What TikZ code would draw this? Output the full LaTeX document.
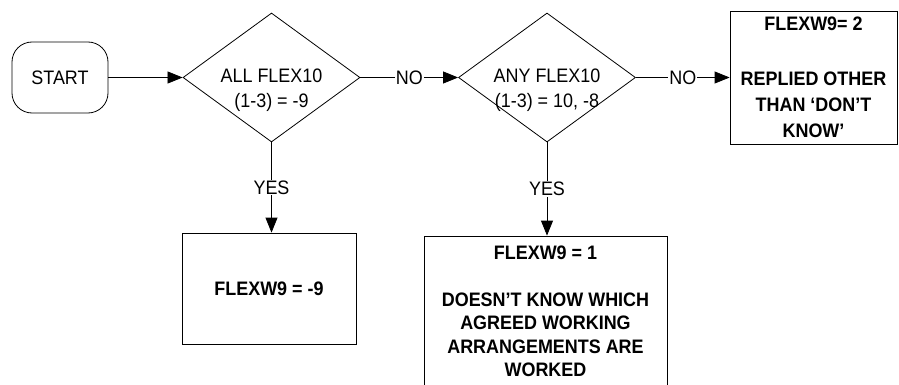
\documentclass[tikz,border=0pt]{standalone}
\usepackage{fontspec}
\setmainfont{Liberation Sans}[FakeStretch=0.92]
\usepackage{tikz}
\usetikzlibrary{arrows.meta, positioning, shapes.geometric}

\begin{document}
\begin{tikzpicture}[
  x=1pt, y=-1pt,
  every node/.style = {font=\fontsize{19.5}{25}\selectfont},
  startbox/.style   = {rectangle, rounded corners=20pt, draw, line width=0.8pt,
                       minimum width=96pt, minimum height=71pt, inner sep=0pt},
  decision/.style   = {diamond, draw, line width=0.8pt, inner sep=0pt,
                       minimum width=177pt, minimum height=129pt},
  dtext/.style      = {align=center, inner sep=0pt},
  result/.style     = {rectangle, draw, line width=0.8pt, align=center,
                       inner sep=0pt},
  arrow/.style      = {-{Triangle[length=15pt, width=12pt]}, line width=0.8pt},
  choice/.style     = {fill=white, inner sep=1pt},
]
\useasboundingbox (0,0) rectangle (899,385);
\clip (0,0) rectangle (899,385);

% Nodes
\node[startbox] (start) at (60,77.5) {START};
\node[decision] (all)   at (271.5,77.5) {};
\node[dtext]    (alltext) at ([yshift=-13pt]all.center) {ALL FLEX10\\(1-3) = -9};
\node[decision] (any)   at (547,77.5) {};
\node[dtext]    (anytext) at ([yshift=-13pt]any.center) {ANY FLEX10\\(1-3) = 10, -8};

\node[result, minimum width=167pt, minimum height=133pt,
      font=\fontsize{19.5}{26}\bfseries] (other) at (813.5,77.5)
      {FLEXW9= 2\\[29pt]REPLIED OTHER\\THAN ‘DON’T\\KNOW’};
\node[result, minimum width=174pt, minimum height=111pt,
      font=\fontsize{19.5}{24}\bfseries] (minus) at (269,288.5)
      {FLEXW9 = -9};
\node[result, minimum width=243pt, minimum height=151pt,
      font=\fontsize{19.5}{23.5}\bfseries] (dunno) at (545.5,311.5)
      {FLEXW9 = 1\\[23.5pt]DOESN’T KNOW WHICH\\AGREED WORKING\\ARRANGEMENTS ARE\\WORKED};

% Arrows
\draw[arrow] (start) -- (all);
\draw[arrow] (all)   -- node[choice] {NO} (any);
\draw[arrow] (any)   -- node[choice] {NO} (other);
\draw[arrow] (all.south) -- node[choice] {YES} (all.south |- minus.north);
\draw[arrow] (any.south) -- node[choice] {YES} (any.south |- dunno.north);
\end{tikzpicture}
\end{document}
